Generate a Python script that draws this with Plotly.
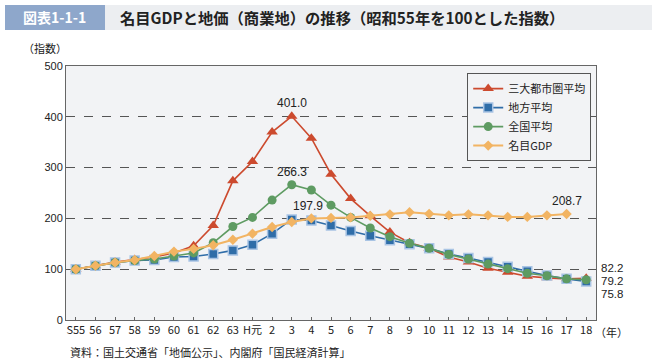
import plotly.graph_objects as go

years = ["S55", "56", "57", "58", "59", "60", "61", "62", "63", "H元", "2", "3", "4", "5",
         "6", "7", "8", "9", "10", "11", "12", "13", "14", "15", "16", "17", "18"]
three_metro = [100, 107, 114, 119, 124, 132, 146, 186, 274, 312, 370, 401.0, 358, 287,
               239, 205, 173, 152, 141, 124, 114, 102, 94, 86, 83, 81, 82.2]
local_avg = [100, 107, 113, 117, 118, 124, 125, 130, 137, 148, 170, 197.9, 196, 186,
             175, 166, 157, 149, 141, 130, 122, 114, 105, 96, 87.5, 81, 75.8]
national_avg = [100, 107, 113, 117, 120, 126, 132, 152, 184, 202, 236, 266.3, 256, 226,
                202, 181, 164, 151, 141, 129, 120, 110, 101, 92, 87, 81, 79.2]
nominal_gdp = [100, 107, 113, 118, 126, 134.6, 140, 147, 158, 170, 183, 193, 200, 201,
               202, 205, 208, 212, 209, 206, 208, 206, 203, 203, 206, 208.7, None]
y_ticks = [0, 100, 200, 300, 400, 500]

xs = list(range(len(years)))
JP = "Noto Sans CJK JP"
NUM = "Liberation Sans, Arial, sans-serif"

fig = go.Figure()
fig.add_trace(go.Scatter(x=xs, y=three_metro, name="三大都市圏平均", mode="lines+markers",
                         line=dict(color="#CC4A2E", width=1.6),
                         marker=dict(symbol="triangle-up", size=10, color="#CC4A2E")))
fig.add_trace(go.Scatter(x=xs, y=local_avg, name="地方平均", mode="lines+markers",
                         line=dict(color="#2F6DA8", width=1.6),
                         marker=dict(symbol="square", size=9, color="#2F6DA8",
                                     line=dict(color="#A9C4E4", width=1.5))))
fig.add_trace(go.Scatter(x=xs, y=national_avg, name="全国平均", mode="lines+markers",
                         line=dict(color="#5E9B62", width=1.6),
                         marker=dict(symbol="circle", size=9, color="#5E9B62")))
fig.add_trace(go.Scatter(x=xs, y=nominal_gdp, name="名目GDP", mode="lines+markers",
                         line=dict(color="#F2B463", width=2),
                         marker=dict(symbol="diamond", size=8, color="#F2B463")))

ann = []
ann.append(dict(x=11, y=three_metro[11], text="401.0", showarrow=False, yshift=13,
                font=dict(size=12, family=NUM, color="#222")))
ann.append(dict(x=11, y=national_avg[11], text="266.3", showarrow=False, yshift=13,
                font=dict(size=12, family=NUM, color="#222")))
ann.append(dict(x=11, y=local_avg[11], text="197.9", showarrow=False, yshift=13, xshift=16,
                font=dict(size=12, family=NUM, color="#222")))
ann.append(dict(x=25, y=nominal_gdp[25], text="208.7", showarrow=False, yshift=13,
                font=dict(size=12, family=NUM, color="#222")))
for txt, yy in [("82.2", 0.204), ("79.2", 0.155), ("75.8", 0.102)]:
    ann.append(dict(xref="paper", yref="paper", x=1.0, y=yy, xanchor="left", yanchor="middle",
                    xshift=3, text=txt, showarrow=False,
                    font=dict(size=11.5, family=NUM, color="#222")))
ann.append(dict(xref="paper", yref="paper", x=1.0, y=0, xanchor="left", yanchor="top",
                xshift=-3, yshift=-2, text="（年）", showarrow=False,
                font=dict(size=11, family=JP, color="#222")))
ann.append(dict(xref="paper", yref="paper", x=-0.04, y=1.07, xanchor="center", yanchor="middle",
                text="（指数）", showarrow=False, font=dict(size=11, family=JP, color="#222")))
ann.append(dict(xref="paper", yref="paper", x=0.003, y=-0.126, xanchor="left", yanchor="middle",
                text="資料：国土交通省「地価公示」、内閣府「国民経済計算」", showarrow=False,
                font=dict(size=11, family=JP, color="#222")))
# title banner texts
ann.append(dict(xref="paper", yref="paper", x=-0.0208, y=1.191, xanchor="center", yanchor="middle",
                text="<b>図表1-1-1</b>", showarrow=False,
                font=dict(size=14, family=JP, color="white")))
ann.append(dict(xref="paper", yref="paper", x=0.0981, y=1.191, xanchor="left", yanchor="middle",
                text="<b>名目GDPと地価（商業地）の推移（昭和55年を100とした指数）</b>", showarrow=False,
                font=dict(size=15.3, family=JP, color="#222")))

shapes = [
    dict(type="rect", xref="paper", yref="paper", x0=-0.1151, x1=1.1057, y0=1.1417, y1=1.2402,
         fillcolor="#ECEEF1", line=dict(width=0), layer="below"),
    dict(type="rect", xref="paper", yref="paper", x0=-0.1151, x1=0.0736, y0=1.1417, y1=1.2402,
         fillcolor="#8EA7CB", line=dict(width=0), layer="below"),
]

fig.update_layout(
    width=657, height=364,
    margin=dict(l=66, r=61, t=66, b=44),
    paper_bgcolor="white", plot_bgcolor="#F2F3F5",
    showlegend=True,
    legend=dict(x=0.757, y=0.972, xanchor="left", yanchor="top",
                bgcolor="#F2F3F5", bordercolor="#555", borderwidth=1,
                font=dict(size=11, family=JP, color="#222"),
                tracegroupgap=0, itemwidth=30),
    annotations=ann, shapes=shapes,
    font=dict(family=NUM, color="#222"),
)
fig.update_xaxes(range=[-0.5, len(years) - 0.5], tickmode="array", tickvals=xs, ticktext=years,
                 showgrid=False, zeroline=False, showline=True, linecolor="#666", linewidth=1,
                 mirror=True, ticks="inside", ticklen=3, tickcolor="#666",
                 tickfont=dict(size=11, family=JP, color="#222"), fixedrange=True)
fig.update_yaxes(range=[0, 500], tickmode="array", tickvals=y_ticks,
                 showgrid=True, gridcolor="#555", griddash="dash", gridwidth=1,
                 zeroline=False, showline=True, linecolor="#666", linewidth=1, mirror=True,
                 ticks="", tickfont=dict(size=11, family=NUM, color="#222"), fixedrange=True)

fig.write_html("out.html", config={"displayModeBar": False},
               post_script="document.body.style.margin='0px';")
